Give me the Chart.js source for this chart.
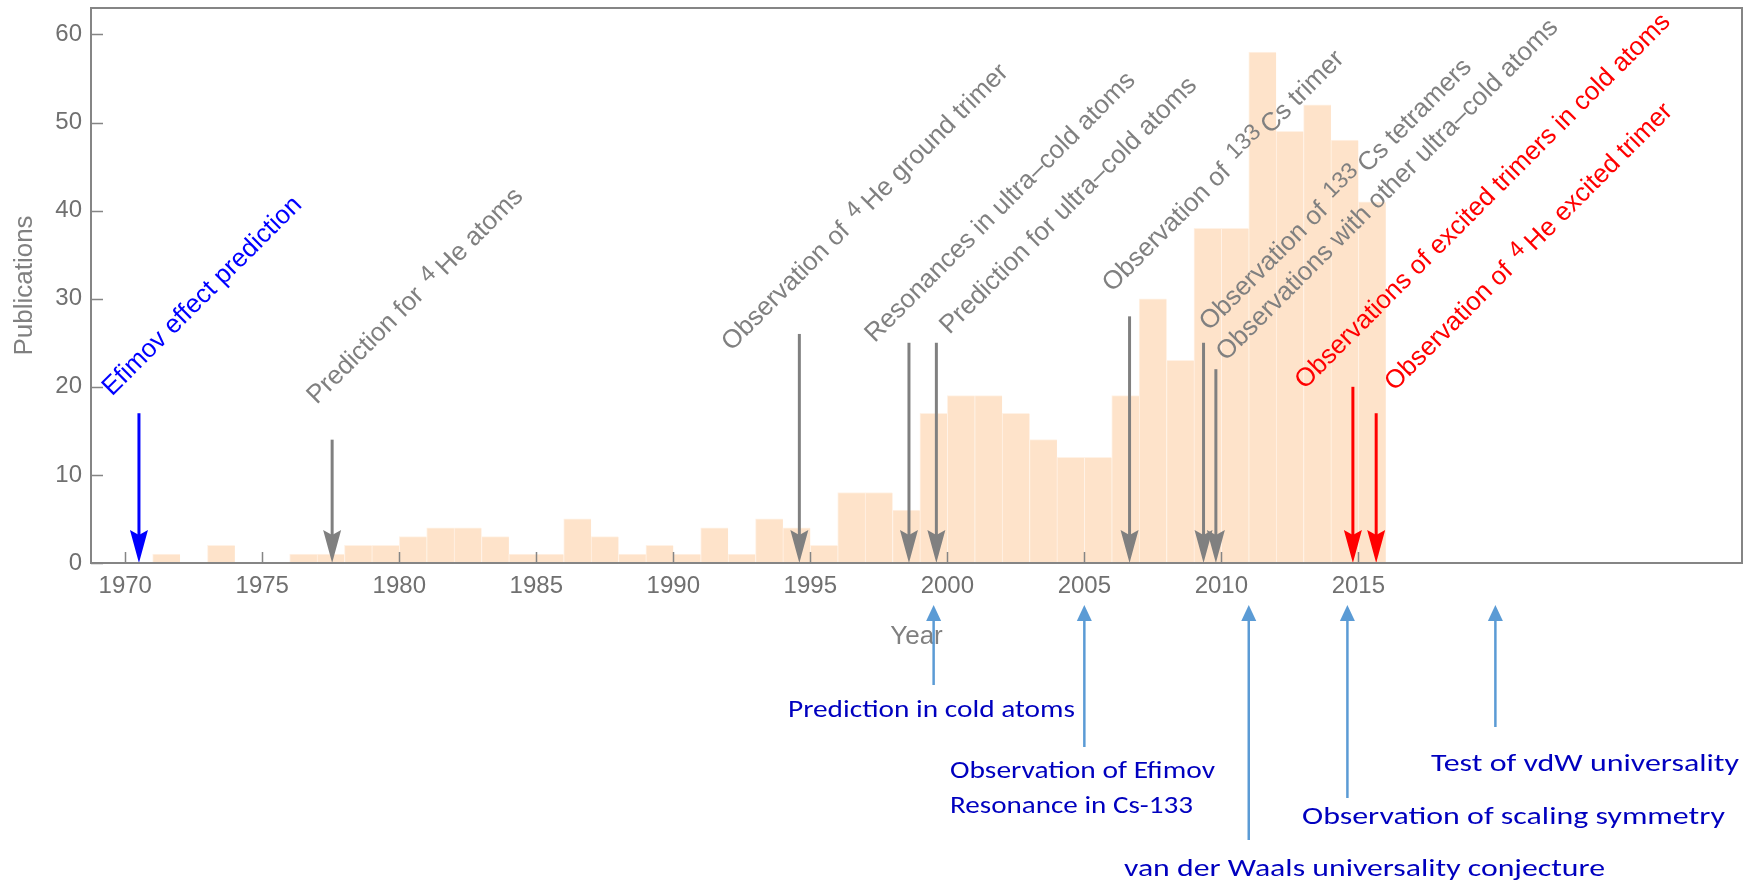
<!DOCTYPE html>
<html>
<head>
<meta charset="utf-8">
<title>Efimov physics publications</title>
<script src="https://cdn.jsdelivr.net/npm/chart.js@4.4.1/dist/chart.umd.min.js"></script>
<style>
  html, body { margin: 0; padding: 0; background: #ffffff; }
  #wrap { position: relative; width: 1763px; height: 884px; }
  canvas { display: block; }
</style>
</head>
<body>
<div id="wrap"><canvas id="chart" width="1763" height="884"></canvas></div>
<script>
// Publications per year (one-year bins)
const years = [
  1970, 1971, 1972, 1973, 1974, 1975, 1976, 1977, 1978, 1979,
  1980, 1981, 1982, 1983, 1984, 1985, 1986, 1987, 1988, 1989,
  1990, 1991, 1992, 1993, 1994, 1995, 1996, 1997, 1998, 1999,
  2000, 2001, 2002, 2003, 2004, 2005, 2006, 2007, 2008, 2009,
  2010, 2011, 2012, 2013, 2014, 2015
];
const publications = [
  0, 1, 0, 2, 0, 0, 1, 1, 2, 2,
  3, 4, 4, 3, 1, 1, 5, 3, 1, 2,
  1, 4, 1, 5, 4, 2, 8, 8, 6, 17,
  19, 19, 17, 14, 12, 12, 19, 30, 23, 38,
  38, 58, 49, 52, 48, 41
];

const xTickYears = [1970, 1975, 1980, 1985, 1990, 1995, 2000, 2005, 2010, 2015];
const yTickValues = [0, 10, 20, 30, 40, 50, 60];

// Milestones marked by arrows inside the plot
const milestoneYears = [1970.5, 1977.55, 1994.6, 1998.6, 1999.6, 2006.65, 2009.35, 2009.8, 2014.8, 2015.65];
const milestoneTops  = [17, 14, 26, 25, 25, 28, 25, 22, 20, 17];
const milestoneKinds = ['prediction', 'past', 'past', 'past', 'past', 'past', 'past', 'past', 'recent', 'recent'];
const milestoneTexts = [
  'Efimov effect prediction',
  'Prediction for ^{4}He atoms',
  'Observation of ^{4}He ground trimer',
  'Resonances in ultra\u2013cold atoms',
  'Prediction for ultra\u2013cold atoms',
  'Observation of ^{133}Cs trimer',
  'Observation of ^{133}Cs tetramers',
  'Observations with other ultra\u2013cold atoms',
  'Observations of excited trimers in cold atoms',
  'Observation of ^{4}He excited trimer'
];
// where each rotated caption starts (year, publications)
const captionYears  = [1969.52, 1976.99, 1992.12, 1997.35, 2000.08, 2006.02, 2009.56, 2010.17, 2013.04, 2016.32];
const captionValues = [18.87, 17.93, 23.99, 24.95, 25.89, 30.67, 26.27, 22.85, 19.64, 19.44];

// Highlighted results listed under the year axis
const highlightYears = [1999.5, 2005, 2011, 2014.6, 2020];
const highlightTexts = [
  ['Prediction in cold atoms'],
  ['Observation of Efimov', 'Resonance in Cs-133'],
  ['van der Waals universality conjecture'],
  ['Observation of scaling symmetry'],
  ['Test of vdW universality']
];

// styling / layout of the overlay
const kindColors = { prediction: '#0000ff', past: '#808080', recent: '#ff0000' };
const highlightLayout = [
  { tail: 685, left: 788,  baseline: 717, widths: [287] },
  { tail: 747, left: 950,  baseline: 778, widths: [265, 243] },
  { tail: 840, left: 1124, baseline: 876, widths: [481] },
  { tail: 798, left: 1302, baseline: 824, widths: [423] },
  { tail: 727, left: 1431, baseline: 771, widths: [308] }
];
const SANS = '"Liberation Sans", Arial, Helvetica, sans-serif';
const NOTE_FONT = 'Carlito, Calibri, "Liberation Sans Narrow", "Liberation Sans", sans-serif';

function drawCaption(ctx, text, x, y, color) {
  const parts = text.split(/\^\{(.*?)\}/);
  ctx.save();
  ctx.translate(x, y);
  ctx.rotate(-Math.PI / 4);
  ctx.fillStyle = color;
  ctx.textAlign = 'left';
  ctx.textBaseline = 'alphabetic';
  let pos = 0;
  parts.forEach((p, i) => {
    if (!p) return;
    if (i % 2 === 1) {
      ctx.font = '23px ' + SANS;
      pos += 4;
      ctx.fillText(p, pos, -7);
      pos += ctx.measureText(p).width + 5;
    } else {
      ctx.font = '26px ' + SANS;
      ctx.fillText(p, pos, 0);
      pos += ctx.measureText(p).width;
    }
  });
  ctx.restore();
}

function downArrow(ctx, x, yTop, yTip, color) {
  const headLen = 33, headHalf = 9, notch = 5;
  ctx.strokeStyle = color;
  ctx.fillStyle = color;
  ctx.lineWidth = 3;
  ctx.beginPath();
  ctx.moveTo(x, yTop);
  ctx.lineTo(x, yTip - headLen + notch + 1);
  ctx.stroke();
  ctx.beginPath();
  ctx.moveTo(x, yTip);
  ctx.lineTo(x - headHalf, yTip - headLen);
  ctx.lineTo(x, yTip - headLen + notch);
  ctx.lineTo(x + headHalf, yTip - headLen);
  ctx.closePath();
  ctx.fill();
}

function upArrow(ctx, x, yTip, yTail, color) {
  const headLen = 16, headHalf = 7.5;
  ctx.strokeStyle = color;
  ctx.fillStyle = color;
  ctx.lineWidth = 2.5;
  ctx.beginPath();
  ctx.moveTo(x, yTail);
  ctx.lineTo(x, yTip + headLen - 1);
  ctx.stroke();
  ctx.beginPath();
  ctx.moveTo(x, yTip);
  ctx.lineTo(x - headHalf, yTip + headLen);
  ctx.lineTo(x + headHalf, yTip + headLen);
  ctx.closePath();
  ctx.fill();
}

function fitText(ctx, str, x, y, w) {
  const m = ctx.measureText(str).width;
  ctx.save();
  ctx.translate(x, y);
  ctx.scale(w / m, 1);
  ctx.fillText(str, 0, 0);
  ctx.restore();
}

const overlay = {
  id: 'overlay',
  afterDatasetsDraw(chart) {
    const { ctx, scales: { x, y } } = chart;
    ctx.save();
    milestoneYears.forEach((yr, i) => {
      const color = kindColors[milestoneKinds[i]];
      downArrow(ctx, x.getPixelForValue(yr), y.getPixelForValue(milestoneTops[i]),
                y.getPixelForValue(0), color);
      drawCaption(ctx, milestoneTexts[i], x.getPixelForValue(captionYears[i]),
                  y.getPixelForValue(captionValues[i]), color);
    });
    ctx.restore();
  },
  afterDraw(chart) {
    const { ctx, chartArea: a, scales: { x, y } } = chart;
    ctx.save();
    // frame
    ctx.strokeStyle = '#858585';
    ctx.lineWidth = 2;
    ctx.strokeRect(a.left, a.top, a.right - a.left, a.bottom - a.top);
    // inward ticks
    ctx.lineWidth = 1.5;
    ctx.beginPath();
    yTickValues.forEach(v => {
      const py = Math.round(y.getPixelForValue(v)) + 0.5;
      ctx.moveTo(a.left, py);
      ctx.lineTo(a.left + 12, py);
    });
    xTickYears.forEach(v => {
      const px = Math.round(x.getPixelForValue(v)) + 0.5;
      ctx.moveTo(px, a.bottom);
      ctx.lineTo(px, a.bottom - 11);
    });
    ctx.stroke();

    // highlighted results below the axis
    ctx.font = '25px ' + NOTE_FONT;
    ctx.textAlign = 'left';
    ctx.textBaseline = 'alphabetic';
    highlightYears.forEach((yr, i) => {
      const L = highlightLayout[i];
      upArrow(ctx, x.getPixelForValue(yr), 605, L.tail, '#5b9bd5');
      ctx.fillStyle = '#0000bf';
      highlightTexts[i].forEach((line, j) => {
        fitText(ctx, line, L.left, L.baseline + j * 35, L.widths[j]);
      });
    });
    ctx.restore();
  }
};

new Chart(document.getElementById('chart'), {
  type: 'bar',
  data: {
    datasets: [{
      data: years.map((yr, i) => ({ x: yr + 0.5, y: publications[i] })),
      backgroundColor: '#fee3ca',
      borderColor: '#fff2e6',
      borderWidth: { top: 1, left: 1, right: 0, bottom: 0 },
      borderSkipped: false,
      barPercentage: 1,
      categoryPercentage: 1
    }]
  },
  options: {
    responsive: false,
    animation: false,
    devicePixelRatio: 1,
    layout: { padding: { top: 8, right: 21, left: 0, bottom: 0 } },
    plugins: { legend: { display: false }, tooltip: { enabled: false } },
    scales: {
      x: {
        type: 'linear',
        min: 1968.75,
        max: 2029,
        offset: false,
        grid: { display: false, drawTicks: false },
        border: { display: false },
        afterBuildTicks: s => { s.ticks = xTickYears.map(v => ({ value: v })); },
        afterFit: s => { s.height = 321; s.paddingLeft = 0; s.paddingRight = 0; },
        ticks: {
          padding: 9,
          color: '#707070',
          autoSkip: false,
          maxRotation: 0,
          font: { family: SANS, size: 24 },
          callback: v => String(v)
        },
        title: {
          display: true,
          text: 'Year',
          color: '#808080',
          font: { family: SANS, size: 26 },
          padding: { top: 0, bottom: 232 }
        }
      },
      y: {
        min: 0,
        max: 63,
        grid: { display: false, drawTicks: false },
        border: { display: false },
        afterBuildTicks: s => { s.ticks = yTickValues.map(v => ({ value: v })); },
        afterFit: s => { s.width = 91; s.paddingTop = 0; s.paddingBottom = 0; },
        ticks: {
          padding: 9,
          color: '#707070',
          font: { family: SANS, size: 24 },
          callback: v => String(v)
        },
        title: {
          display: true,
          text: 'Publications',
          color: '#808080',
          font: { family: SANS, size: 26 },
          padding: { top: 9, bottom: 0 }
        }
      }
    }
  },
  plugins: [overlay]
});
</script>
</body>
</html>
